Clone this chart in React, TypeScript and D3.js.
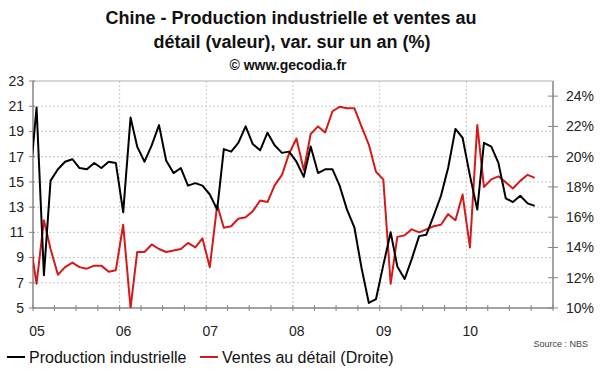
import React from 'react';
import * as d3 from 'd3';

// monthly series, first point = Dec 2004, last = Oct 2010
const firstMonth = new Date(2004, 11, 1);

const industrialProduction = [
  14.4,
  20.9, 7.6, 15.1, 16.0, 16.6, 16.8, 16.1, 16.0, 16.5, 16.1, 16.6, 16.5,
  12.6, 20.1, 17.8, 16.6, 17.9, 19.5, 16.7, 15.7, 16.1, 14.7, 14.9, 14.7,
  14.0, 12.8, 17.6, 17.4, 18.1, 19.4, 18.0, 17.5, 18.9, 17.9, 17.3, 17.4,
  16.6, 15.4, 17.8, 15.7, 16.0, 16.0, 14.7, 12.8, 11.4, 8.2, 5.4, 5.7,
  8.4, 11.0, 8.3, 7.3, 8.9, 10.7, 10.8, 12.3, 13.9, 16.1, 19.2, 18.5,
  15.5, 12.8, 18.1, 17.8, 16.5, 13.7, 13.4, 13.9, 13.3, 13.1,
];

const retailSales = [
  14.8,
  11.6, 15.8, 13.9, 12.2, 12.7, 13.0, 12.7, 12.6, 12.8, 12.8, 12.4, 12.5,
  15.5, 10.0, 13.7, 13.7, 14.2, 13.9, 13.7, 13.8, 13.9, 14.3, 14.0, 14.6,
  12.7, 16.8, 15.3, 15.4, 15.9, 16.0, 16.4, 17.1, 17.0, 18.1, 18.8, 20.2,
  21.2, 19.1, 21.5, 22.0, 21.6, 23.0, 23.3, 23.2, 23.2, 22.0, 20.8, 19.0,
  18.5, 11.6, 14.7, 14.8, 15.2, 15.0, 15.2, 15.4, 15.5, 16.2, 15.8, 17.5,
  14.0, 22.1, 18.0, 18.5, 18.7, 18.3, 17.9, 18.4, 18.8, 18.6,
];

const yearLabels = ['05', '06', '07', '08', '09', '10'];
const leftTicks = [5, 7, 9, 11, 13, 15, 17, 19, 21, 23];
const rightTicks = [10, 12, 14, 16, 18, 20, 22, 24];

const W = 600;
const H = 372;
const left = 33, right = 553, top = 81, bottom = 308;
const font = '"Liberation Sans", Arial, sans-serif';
const axisColor = '#858585';
const red = '#d41a1a';

const App = () => {
  const x = d3.scaleTime()
    .domain([new Date(2005, 0, 1), new Date(2011, 0, 1)])
    .range([left, right]);
  const yL = d3.scaleLinear().domain([5, 23]).range([bottom, top]);
  const yR = d3.scaleLinear().domain([10, 25]).range([bottom, top]);

  const dateAt = (i) => {
    const m = d3.timeMonth.offset(firstMonth, i);
    return new Date(m.getFullYear(), m.getMonth(), 16);
  };

  const ipLine = d3.line<number>()
    .x((d, i) => x(dateAt(i)))
    .y((d) => yL(d));
  const rsLine = d3.line<number>()
    .x((d, i) => x(dateAt(i)))
    .y((d) => yR(d));

  const years = yearLabels.map((l, i) => ({ label: l, date: new Date(2005 + i, 0, 1) }));
  const quarters = x.ticks(d3.timeMonth.every(3));
  const yearGrid = d3.range(2006, 2011).map((y) => new Date(y, 0, 1));

  return (
    <svg width={W} height={H} style={{ position: 'absolute', left: 0, top: 0, background: '#fff' }}
      fontFamily={font}>
      <defs>
        <clipPath id="plot">
          <rect x={left} y={top} width={right - left} height={bottom - top} />
        </clipPath>
      </defs>

      {/* title */}
      <g fontWeight="bold" textAnchor="middle" fill="#111">
        <text x={291} y={24} fontSize={18}>Chine - Production industrielle et ventes au</text>
        <text x={292} y={48} fontSize={18}>détail (valeur), var. sur un an (%)</text>
        <text x={288} y={70} fontSize={14}>© www.gecodia.fr</text>
      </g>

      {/* grid */}
      <g stroke="#c8c8c8" strokeDasharray="2,2" strokeWidth={1}>
        {leftTicks.filter((t) => t > 5 && t < 23).map((t) => (
          <line key={'h' + t} x1={left} x2={right} y1={yL(t)} y2={yL(t)} />
        ))}
        {yearGrid.map((d) => (
          <line key={'v' + d.getFullYear()} x1={x(d)} x2={x(d)} y1={top} y2={bottom} />
        ))}
      </g>
      <line x1={left} x2={right} y1={top} y2={top} stroke="#b0b0b0" />

      {/* axes */}
      <g stroke={axisColor} strokeWidth={1.5}>
        <line x1={left} x2={left} y1={top} y2={bottom} />
        <line x1={right} x2={right} y1={top} y2={bottom} />
        <line x1={left} x2={right} y1={bottom} y2={bottom} />
        {leftTicks.map((t) => (
          <line key={'lt' + t} x1={left - 4} x2={left + 2} y1={yL(t)} y2={yL(t)} strokeWidth={1} />
        ))}
        {rightTicks.map((t) => (
          <line key={'rt' + t} x1={right - 5} x2={right + 5} y1={yR(t)} y2={yR(t)} strokeWidth={1} />
        ))}
        {quarters.map((d) => (
          <line key={'q' + d.getTime()} x1={x(d)} x2={x(d)} y1={bottom - 3} y2={bottom + 3} strokeWidth={1} />
        ))}
      </g>

      <g fontSize={14} fill="#222">
        {leftTicks.map((t) => (
          <text key={'ll' + t} x={24} y={yL(t)} dy="0.35em" textAnchor="end">{t}</text>
        ))}
        {rightTicks.map((t) => (
          <text key={'rl' + t} x={566} y={yR(t)} dy="0.35em">{t}%</text>
        ))}
        {years.map((y) => (
          <text key={'yl' + y.label} x={x(y.date) + 4} y={336} textAnchor="middle">{y.label}</text>
        ))}
      </g>

      {/* series */}
      <g clipPath="url(#plot)" fill="none" strokeWidth={2} strokeLinejoin="round">
        <path d={rsLine(retailSales) || ''} stroke={red} />
        <path d={ipLine(industrialProduction) || ''} stroke="#000" />
      </g>

      <text x={588} y={347} fontSize={9} textAnchor="end" fill="#444">Source : NBS</text>

      {/* legend */}
      <g fontSize={16} fill="#111">
        <line x1={7} x2={25} y1={357} y2={357} stroke="#000" strokeWidth={2} />
        <text x={29} y={363}>Production industrielle</text>
        <line x1={200} x2={218} y1={357} y2={357} stroke={red} strokeWidth={2} />
        <text x={222} y={363}>Ventes au détail (Droite)</text>
      </g>
    </svg>
  );
};

export default App;
